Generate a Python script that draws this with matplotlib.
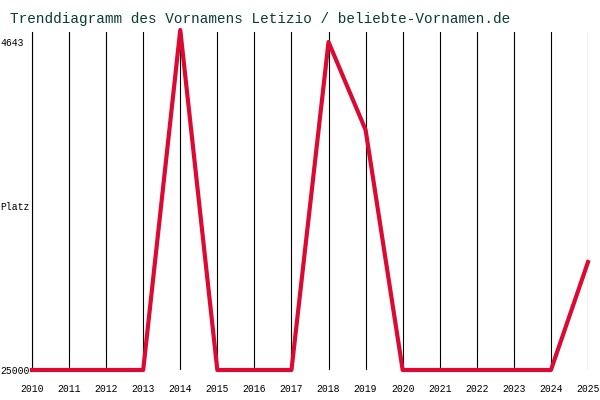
import matplotlib
matplotlib.use("Agg")
import matplotlib.pyplot as plt

years = list(range(2010, 2026))
ranks = [25000, 25000, 25000, 25000, 3900, 25000, 25000, 25000, 4643, 10100, 25000, 25000, 25000, 25000, 25000, 18300]

fig = plt.figure(figsize=(6, 4), dpi=100)
ax = fig.add_axes([32/600, 30/400, 556/600, 338/400])
font = "Liberation Mono"
for y in years:
    ax.axvline(y, color="black", lw=0.8, zorder=1)
ax.plot(years, ranks, color="#dc0a32", lw=3, zorder=3, clip_on=False)
ax.set_xlim(2010, 2025)
ax.set_ylim(25000, 4643 - 10 * 62)
for s in ["top", "right", "bottom"]:
    ax.spines[s].set_visible(False)
ax.spines["left"].set_color("black")
ax.set_xticks(years)
ax.set_xticklabels([str(y) for y in years], fontfamily=font, fontsize=7)
ax.tick_params(length=0, pad=10)
ax.set_yticks([4643, (4643 + 25000) / 2, 25000])
ax.set_yticklabels(["4643", "Platz", "25000"], fontfamily=font, fontsize=7)
ax.tick_params(axis="y", pad=1)
for lbl in ax.get_yticklabels():
    lbl.set_horizontalalignment("left")
    lbl.set_x(-0.055)
fig.text(10/600, 1 - 19/400, "Trenddiagramm des Vornamens Letizio / beliebte-Vornamen.de",
         fontfamily=font, fontsize=10.4, color="#0a3c32", va="center")
fig.savefig("out.png")
